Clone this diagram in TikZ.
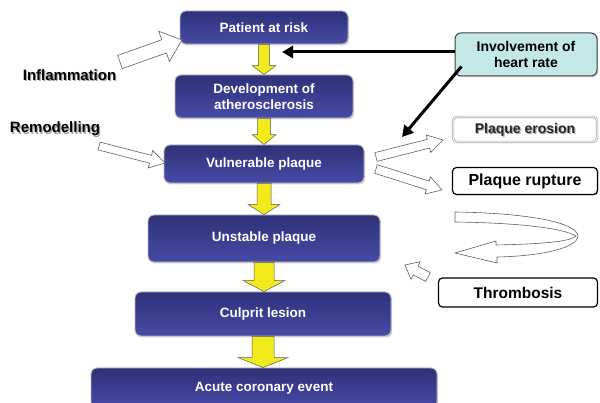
\documentclass[tikz,border=0pt]{standalone}
\usepackage{fontspec}
\setmainfont{Liberation Sans}
\usetikzlibrary{calc,arrows.meta,shadows}
\definecolor{navyA}{HTML}{2F3178}
\definecolor{navyM}{HTML}{363A88}
\definecolor{navyB}{HTML}{474BA6}
\definecolor{yel}{HTML}{F2EA1A}
\definecolor{cyanbox}{HTML}{C4E8E8}
\newcommand{\hollowarr}[5]{%
  \coordinate (hb) at ($(#2)!#5!(#1)$);
  \draw[hollow] ($(#1)!#3!90:(#2)$) -- ($(hb)!#3!90:(#2)$) -- ($(hb)!#4!90:(#2)$) -- (#2)
    -- ($(hb)!#4!-90:(#2)$) -- ($(hb)!#3!-90:(#2)$) -- ($(#1)!#3!-90:(#2)$) -- cycle;}
\newcommand{\yelarr}[5]{%
  \draw[yarr] ($(#1.south)+(-#3,0)$) -- ($(#1.south |- #2.north)+(-#3,-#5)$) -- ($(#1.south |- #2.north)+(-#4,-#5)$)
    -- (#1.south |- #2.north) -- ($(#1.south |- #2.north)+(#4,-#5)$) -- ($(#1.south |- #2.north)+(#3,-#5)$)
    -- ($(#1.south)+(#3,0)$) -- cycle;}
\begin{document}
\begin{tikzpicture}[x=1pt,y=-1pt,
  box/.style={rounded corners=6pt, top color=navyA, middle color=navyM, bottom color=navyB, draw=gray!55, line width=0.9pt,
    text=white, align=center, inner sep=0pt, font=\bfseries\fontsize{13.5}{15.5}\selectfont,
    drop shadow={opacity=0.35, shadow xshift=1.2pt, shadow yshift=-1.5pt}},
  wbox/.style={rounded corners=4pt, fill=white, draw=black, line width=1.2pt, inner sep=0pt,
    font=\bfseries\fontsize{16}{18}\selectfont},
  lbl/.style={font=\bfseries\fontsize{15}{17}\selectfont, inner sep=0pt},
  hollow/.style={draw=gray!75!black, fill=white, line width=0.6pt, line join=miter},
  yarr/.style={fill=yel, draw=gray!70!black, line width=0.5pt},
  blk/.style={line width=3pt, -{Triangle[length=11pt,width=12pt]}}]
\useasboundingbox (0,0) rectangle (600,403);
\fill[white] (0,0) rectangle (600,403);
% main chain
\node[box, minimum width=168pt, minimum height=33pt] (pat) at (264,27.5) {Patient at risk};
\node[box, minimum width=178pt, minimum height=43pt] (dev) at (264,96.5) {Development of\\atherosclerosis};
\node[box, minimum width=200pt, minimum height=38pt] (vul) at (264,164) {Vulnerable plaque};
\node[box, minimum width=232pt, minimum height=47pt] (uns) at (264,238.5) {Unstable plaque};
\node[box, minimum width=256pt, minimum height=44pt] (cul) at (263,314) {Culprit lesion};
\node[box, minimum width=346pt, minimum height=40pt] (acu) at (264,388) {Acute coronary event};
% yellow arrows
\yelarr{pat}{dev}{5.5}{12}{9}
\yelarr{dev}{vul}{6.5}{12}{10}
\yelarr{vul}{uns}{7}{16}{10}
\yelarr{uns}{cul}{10}{21}{11}
\yelarr{cul}{acu}{11}{25}{10}
% right side
\node[rounded corners=6pt, fill=cyanbox, draw=gray!50!black, line width=1pt, align=center, inner sep=0pt,
  minimum width=142pt, minimum height=43pt, font=\bfseries\fontsize{14}{16.5}\selectfont,
  drop shadow={opacity=0.3, shadow xshift=1.2pt, shadow yshift=-1.5pt}] (inv) at (526,54.5) {Involvement of\\heart rate};
\node[rounded corners=4pt, fill=white, draw=gray!70, line width=0.7pt, double=white, double distance=1pt,
  minimum width=144pt, minimum height=25pt, inner sep=0pt] (ero) at (525,129.5) {};
\node[font=\bfseries\fontsize{14}{16}\selectfont, text=gray!70, inner sep=0pt] at ($(ero.center)+(1.2,1.2)$) {Plaque erosion};
\node[font=\bfseries\fontsize{14}{16}\selectfont, text=black!85, inner sep=0pt] (erotxt) at (ero.center) {Plaque erosion};
\node[wbox, minimum width=145pt, minimum height=27pt,
  drop shadow={opacity=0.3, shadow xshift=1pt, shadow yshift=-1.2pt}] (rup) at (525,181) {Plaque rupture};
\node[wbox, minimum width=159pt, minimum height=29pt, font=\bfseries\fontsize{15.5}{18}\selectfont] (thr) at (518,292.5) {Thrombosis};
% black arrows
\coordinate (hr1) at (282,52);
\coordinate (hr2) at (402,137);
\draw[blk] ([yshift=2.5pt]inv.west) -- (hr1);
\draw[blk] ($(inv.south west)+(7,-10)$) -- (hr2);
% left labels
\node[lbl, text=gray!70] at (70.7,76.2) {Inflammation};
\node[lbl] (infl) at (69.5,75) {Inflammation};
\node[lbl, text=gray!70] at (56.2,130.2) {Remodelling};
\node[lbl] (remo) at (55,129) {Remodelling};
% hollow arrows
\coordinate (inflT) at (120,62); \coordinate (inflP) at (182,40);
\coordinate (remT) at (99,146);  \coordinate (remP) at (165,163);
\coordinate (eroT) at (376,157); \coordinate (eroP) at (443,140);
\coordinate (rupT) at (376,169); \coordinate (rupP) at (442,190);
\coordinate (thrT) at (428,277); \coordinate (thrP) at (405,265);
\hollowarr{inflT}{inflP}{7pt}{16pt}{19pt}
\hollowarr{remT}{remP}{4pt}{9pt}{15pt}
\hollowarr{eroT}{eroP}{4.5pt}{9pt}{15pt}
\hollowarr{rupT}{rupP}{4.5pt}{9pt}{15pt}
\hollowarr{thrT}{thrP}{5pt}{10pt}{12pt}
% curved arrow
\draw[hollow, line join=round] (455,212) .. controls (525,213) and (577,222) .. (578,236)
  .. controls (578,247) and (545,256) .. (497,257) -- (497,263) -- (455,253) -- (496,241) -- (496,245)
  .. controls (540,244) and (570,242) .. (576,236)
  .. controls (565,229) and (525,223) .. (455,222) -- cycle;
\end{tikzpicture}
\end{document}
